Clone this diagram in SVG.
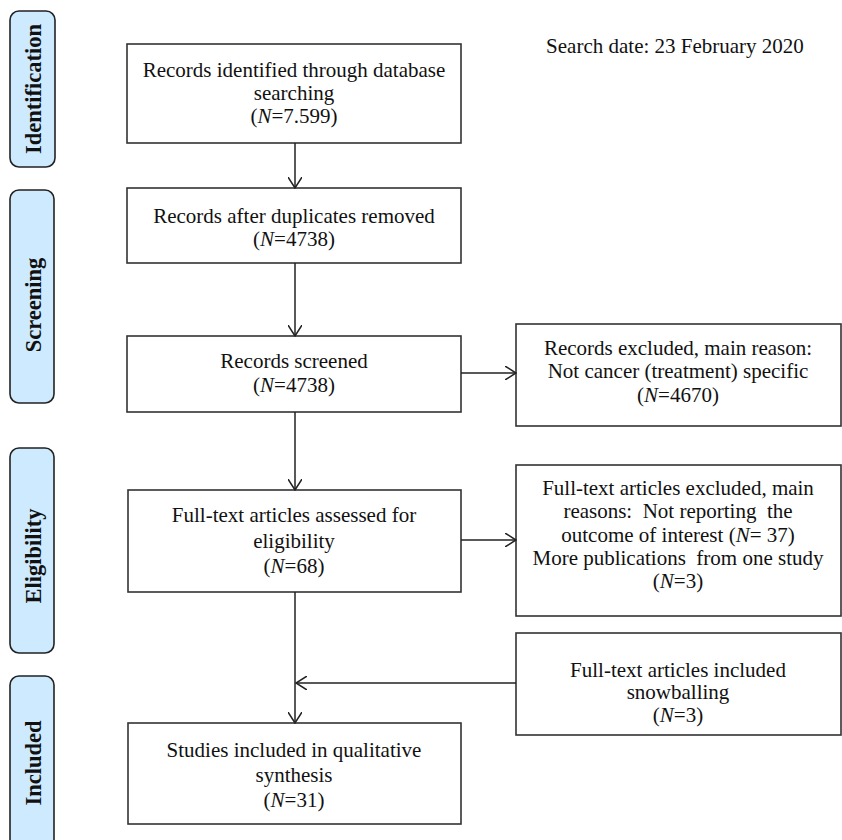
<svg xmlns="http://www.w3.org/2000/svg" width="842" height="840" viewBox="0 0 842 840">
<defs>
<marker id="arr" viewBox="0 0 12 14" refX="11" refY="7" markerWidth="12" markerHeight="14" markerUnits="userSpaceOnUse" orient="auto">
<path d="M0,0 L11,7 L0,14" fill="none" stroke="#222" stroke-width="1.5"/>
</marker>
<style>
.box{fill:#fff;stroke:#333;stroke-width:1.6}
.pill{fill:#cdeaff;stroke:#222;stroke-width:1.6}
.t{font-family:"Liberation Serif","Times New Roman",serif;font-size:21px;fill:#111;text-anchor:middle}
.lbl{font-family:"Liberation Serif","Times New Roman",serif;font-size:22.5px;font-weight:bold;fill:#111;text-anchor:middle}
.c{fill:none;stroke:#222;stroke-width:1.5}
</style>
</defs>
<rect width="842" height="840" fill="#fff"/>

<g id="phase-identification">
<rect class="pill" x="10" y="11" width="45" height="156" rx="9"/>
<text class="lbl" transform="translate(41,89) rotate(-90)">Identification</text>
</g>
<g id="phase-screening">
<rect class="pill" x="10" y="190" width="44" height="213" rx="9"/>
<text class="lbl" transform="translate(41,305) rotate(-90)">Screening</text>
</g>
<g id="phase-eligibility">
<rect class="pill" x="10" y="448" width="44" height="205" rx="9"/>
<text class="lbl" transform="translate(41,556) rotate(-90)">Eligibility</text>
</g>
<g id="phase-included">
<rect class="pill" x="10" y="676" width="44" height="180" rx="9"/>
<text class="lbl" transform="translate(41,763) rotate(-90)">Included</text>
</g>

<g id="search-date">
<text class="t" x="675" y="53">Search date: 23 February 2020</text>
</g>

<g id="identified">
<rect class="box" x="127" y="44" width="334" height="99"/>
<text class="t" x="294" y="77">Records identified through database</text>
<text class="t" x="294" y="100">searching</text>
<text class="t" x="294" y="123">(<tspan font-style="italic">N</tspan>=7.599)</text>
</g>
<g id="dedup">
<rect class="box" x="127" y="188" width="334" height="75"/>
<text class="t" x="294" y="223">Records after duplicates removed</text>
<text class="t" x="294" y="246">(<tspan font-style="italic">N</tspan>=4738)</text>
</g>
<g id="screened">
<rect class="box" x="127" y="336" width="334" height="76"/>
<text class="t" x="294" y="368">Records screened</text>
<text class="t" x="294" y="392">(<tspan font-style="italic">N</tspan>=4738)</text>
</g>
<g id="excluded1">
<rect class="box" x="516" y="324" width="325" height="102"/>
<text class="t" x="678" y="355">Records excluded, main reason:</text>
<text class="t" x="678" y="378">Not cancer (treatment) specific</text>
<text class="t" x="678" y="402">(<tspan font-style="italic">N</tspan>=4670)</text>
</g>
<g id="fulltext">
<rect class="box" x="128" y="490" width="333" height="102"/>
<text class="t" x="294" y="522">Full-text articles assessed for</text>
<text class="t" x="294" y="548">eligibility</text>
<text class="t" x="294" y="573">(<tspan font-style="italic">N</tspan>=68)</text>
</g>
<g id="excluded2">
<rect class="box" x="516" y="465" width="325" height="151"/>
<text class="t" x="678" y="495">Full-text articles excluded, main</text>
<text class="t" x="678" y="518" xml:space="preserve">reasons:  Not reporting  the</text>
<text class="t" x="678" y="542">outcome of interest (<tspan font-style="italic">N</tspan>= 37)</text>
<text class="t" x="678" y="565" xml:space="preserve">More publications  from one study</text>
<text class="t" x="678" y="588">(<tspan font-style="italic">N</tspan>=3)</text>
</g>
<g id="snowballing">
<rect class="box" x="516" y="633" width="325" height="102"/>
<text class="t" x="678" y="677">Full-text articles included</text>
<text class="t" x="678" y="699">snowballing</text>
<text class="t" x="678" y="722">(<tspan font-style="italic">N</tspan>=3)</text>
</g>
<g id="included">
<rect class="box" x="128" y="723" width="333" height="101"/>
<text class="t" x="294" y="757">Studies included in qualitative</text>
<text class="t" x="294" y="782">synthesis</text>
<text class="t" x="294" y="807">(<tspan font-style="italic">N</tspan>=31)</text>
</g>

<g id="connectors">
<line class="c" x1="295" y1="143" x2="295" y2="188" marker-end="url(#arr)"/>
<line class="c" x1="295" y1="263" x2="295" y2="336" marker-end="url(#arr)"/>
<line class="c" x1="295" y1="412" x2="295" y2="490" marker-end="url(#arr)"/>
<line class="c" x1="461" y1="373" x2="516" y2="373" marker-end="url(#arr)"/>
<line class="c" x1="461" y1="540" x2="516" y2="540" marker-end="url(#arr)"/>
<line class="c" x1="295" y1="592" x2="295" y2="723" marker-end="url(#arr)"/>
<line class="c" x1="516" y1="683" x2="296" y2="683" marker-end="url(#arr)"/>
</g>
</svg>
